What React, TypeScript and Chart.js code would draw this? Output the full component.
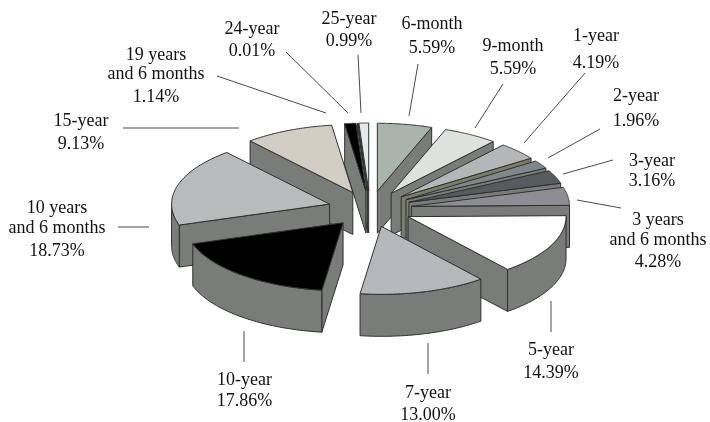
import React, { useEffect, useRef } from "react";
import { Chart, registerables } from "chart.js";

Chart.register(...registerables);

const categories = [
  "6-month", "9-month", "1-year", "2-year", "3-year", "3 years and 6 months", "5-year",
  "7-year", "10-year", "10 years and 6 months", "15-year", "19 years and 6 months", "24-year", "25-year",
];
const shares = [5.59, 5.59, 4.19, 1.96, 3.16, 4.28, 14.39, 13.0, 17.86, 18.73, 9.13, 1.14, 0.01, 0.99];
const topColors = [
  "#a9b5ac", "#dde2de", "#b4b6b8", "#7f878b", "#565b5e", "#8e8d93", "#ffffff",
  "#b6b7ba", "#000000", "#b9babc", "#d2cdc2", "#000000", "#8a8a8a", "#e4e8ec",
];
const wallColors = [
  "#7a7c7a", "#7a7c7a", "#7c7d68", "#7a7c7a", "#7a7c7a", "#7a7c7a", "#7a7c7a",
  "#7a7c7a", "#7a7c7a", "#7a7c7a", "#7a7c7a", "#7a7c7a", "#7a7c7a", "#7a7c7a",
];

// Label layout, in the same order as the categories.
const labelLines = [
  ["6-month"], ["9-month"], ["1-year"], ["2-year"], ["3-year"], ["3 years", "and 6 months"], ["5-year"],
  ["7-year"], ["10-year"], ["10 years", "and 6 months"], ["15-year"], ["19 years", "and 6 months"], ["24-year"], ["25-year"],
];
const labelX = [432, 513, 596, 636, 652, 658, 551, 428, 244.5, 57, 81, 156, 252, 349];
const labelY = [
  [29, 53], [51, 74], [41, 68], [101, 126], [166, 186], [225, 245, 267], [355, 378],
  [398, 420], [385, 406], [213, 233, 256], [126, 149], [60, 79, 102], [34, 56], [24, 46],
];
const leaders = [
  [418, 64, 409, 116], [503, 84, 475, 128], [585, 73, 524, 143], [600, 129, 548, 158],
  [613, 160, 563, 174], [621, 208, 577, 200], [551, 301, 551, 332], [428, 343, 428, 374],
  [244, 331, 244, 362], [118, 227, 149, 227], [123, 128, 239, 128], [217, 76, 326, 113],
  [286, 52, 348, 113], [358, 55, 361, 113],
];

const SQUASH = 0.43;
const EXPLODE = 42;
const DEPTH = 42;
const CENTER_Y = 209;
const EDGE = "#2e302e";

const pie3d = {
  id: "pie3d",
  beforeDatasetsDraw(chart: any) {
    const ctx = chart.ctx;
    const arcs = chart.getDatasetMeta(0).data.map((arc: any, i: number) => ({ arc, i }));
    const place = (arc: any, angle: number, r: number, mid: number) => [
      arc.x + Math.cos(mid) * EXPLODE + Math.cos(angle) * r,
      CENTER_Y + (Math.sin(mid) * EXPLODE + Math.sin(angle) * r) * SQUASH,
    ];
    const mid = (a: any) => (a.startAngle + a.endAngle) / 2;
    arcs.sort((p: any, q: any) => Math.sin(mid(p.arc)) - Math.sin(mid(q.arc)));
    ctx.save();
    ctx.lineJoin = "round";
    ctx.lineWidth = 1;
    ctx.strokeStyle = EDGE;
    const poly = (pts: number[][], fill?: string) => {
      ctx.beginPath();
      pts.forEach((p, k) => (k ? ctx.lineTo(p[0], p[1]) : ctx.moveTo(p[0], p[1])));
      ctx.closePath();
      if (fill) {
        ctx.fillStyle = fill;
        ctx.fill();
      }
      ctx.stroke();
    };
    for (const { arc, i } of arcs) {
      const m = mid(arc);
      const r = arc.outerRadius;
      const a = arc.startAngle;
      const b = arc.endAngle;
      const apex = place(arc, 0, 0, m);
      const down = (p: number[]) => [p[0], p[1] + DEPTH];
      const wall = wallColors[i];
      // radial walls facing the viewer
      if (Math.cos(a) < 0) {
        const p = place(arc, a, r, m);
        poly([apex, p, down(p), down(apex)], wall);
      }
      if (Math.cos(b) > 0) {
        const p = place(arc, b, r, m);
        poly([apex, p, down(p), down(apex)], wall);
      }
      // curved rim, lower half only
      const r0 = Math.max(a, 0);
      const r1 = Math.min(b, Math.PI);
      if (r1 > r0) {
        const upper: number[][] = [];
        for (let k = 0; k <= 48; k++) upper.push(place(arc, r0 + ((r1 - r0) * k) / 48, r, m));
        poly([...upper, ...upper.slice().reverse().map(down)], wall);
      }
      // top face: the library's own arc, squashed and pulled out of the pie
      ctx.save();
      ctx.translate(0, CENTER_Y);
      ctx.scale(1, SQUASH);
      ctx.translate(Math.cos(m) * EXPLODE, Math.sin(m) * EXPLODE - arc.y);
      arc.draw(ctx);
      ctx.restore();
      const outline: number[][] = [apex];
      for (let k = 0; k <= 48; k++) outline.push(place(arc, a + ((b - a) * k) / 48, r, m));
      poly(outline);
    }
    ctx.restore();
    return false;
  },
  afterDraw(chart: any) {
    const ctx = chart.ctx;
    ctx.save();
    ctx.strokeStyle = "#4a4a4a";
    ctx.lineWidth = 1;
    for (const l of leaders) {
      ctx.beginPath();
      ctx.moveTo(l[0], l[1]);
      ctx.lineTo(l[2], l[3]);
      ctx.stroke();
    }
    ctx.fillStyle = "#111111";
    ctx.font = '18px "Liberation Serif"';
    ctx.textAlign = "center";
    ctx.textBaseline = "alphabetic";
    labelLines.forEach((lines, i) => {
      const rows = [...lines, shares[i].toFixed(2) + "%"];
      rows.forEach((t, k) => ctx.fillText(t, labelX[i], labelY[i][k]));
    });
    ctx.restore();
  },
};

export default function App() {
  const ref = useRef<HTMLCanvasElement>(null);
  useEffect(() => {
    const chart = new Chart(ref.current as HTMLCanvasElement, {
      type: "pie",
      data: {
        labels: categories,
        datasets: [{ data: shares, backgroundColor: topColors, borderWidth: 0, hoverOffset: 0 }],
      },
      options: {
        responsive: false,
        animation: false,
        radius: 158,
        layout: { padding: { left: 30 } },
        plugins: { legend: { display: false }, tooltip: { enabled: false } },
      } as any,
      plugins: [pie3d],
    });
    return () => chart.destroy();
  }, []);
  return (
    <div style={{ position: "absolute", left: 0, top: 0, width: 710, height: 422, background: "#fff" }}>
      <canvas ref={ref} width={710} height={422} style={{ display: "block" }} />
    </div>
  );
}
